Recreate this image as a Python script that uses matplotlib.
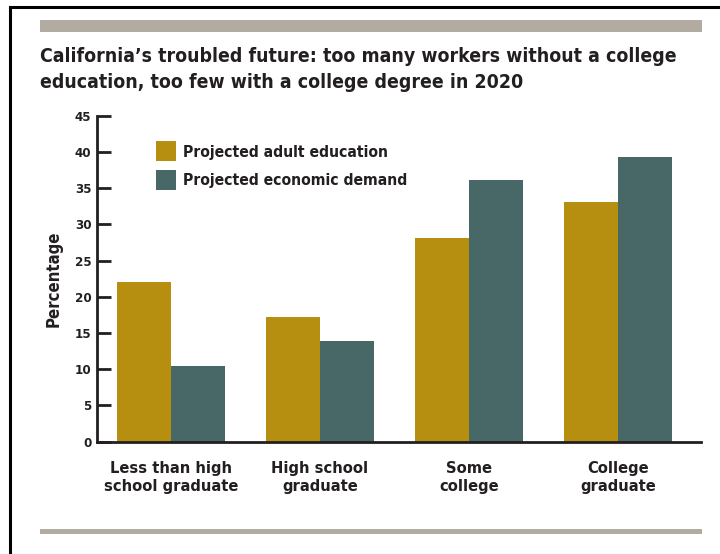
import numpy as np
import matplotlib.pyplot as plt
from matplotlib.patches import Rectangle
from matplotlib.lines import Line2D

# Education levels and projected shares (%) for 2020
categories = ["Less than high\nschool graduate", "High school\ngraduate",
              "Some\ncollege", "College\ngraduate"]
adult_education = [22.0, 17.2, 28.1, 33.1]
economic_demand = [10.5, 13.9, 36.1, 39.3]
series_names = ["Projected adult education", "Projected economic demand"]
yticks = [0, 5, 10, 15, 20, 25, 30, 35, 40, 45]

GOLD = "#B68E10"
TEAL = "#476866"
INK = "#231F20"
RULE = "#B2ABA2"

plt.rcParams["font.family"] = ["DejaVu Sans"]
plt.rcParams["font.stretch"] = "condensed"
plt.rcParams["font.weight"] = "bold"

W, H = 720, 554
fig = plt.figure(figsize=(W / 100, H / 100), dpi=100)
renderer = fig.canvas.get_renderer()


def fx(px):
    return px / W


def fy(py):
    return 1 - py / H


def fit_width(txt, target_px):
    # scale font so the text spans target_px horizontally
    w = txt.get_window_extent(renderer).width
    txt.set_fontsize(txt.get_fontsize() * target_px / w)


# Page frame and grey rules
fig.add_artist(Line2D([fx(10), fx(10)], [fy(7), 0], color="black", lw=2.2))
fig.add_artist(Line2D([fx(10), 1], [fy(7), fy(7)], color="black", lw=2.2))
fig.add_artist(Rectangle((fx(40), fy(32)), fx(662), 12 / H, color=RULE, lw=0))
fig.add_artist(Rectangle((fx(40), fy(534)), fx(662), 5 / H, color=RULE, lw=0))

t1 = fig.text(fx(40), fy(56), "California\u2019s troubled future: too many workers without a college",
              fontsize=15, color=INK, va="center", ha="left")
fit_width(t1, 636)
fig.text(fx(40), fy(83), "education, too few with a college degree in 2020",
         fontsize=t1.get_fontsize(), color=INK, va="center", ha="left")

ax = fig.add_axes([fx(97), fy(441.7), fx(701 - 97), (441.7 - 115.7) / H])
x = np.arange(len(categories))
width = 0.36
ax.bar(x - width / 2, adult_education, width, color=GOLD)
ax.bar(x + width / 2, economic_demand, width, color=TEAL)

ax.set_xlim(-0.497, 3.557)
ax.set_ylim(0, 45)
ax.set_yticks(yticks)
ax.set_xticks([])
for side in ["top", "right"]:
    ax.spines[side].set_visible(False)
for side in ["left", "bottom"]:
    ax.spines[side].set_linewidth(2)
    ax.spines[side].set_color(INK)
ax.tick_params(axis="y", direction="in", length=10, width=2, color=INK,
               labelsize=9.5, labelcolor=INK, pad=4)
for lbl in ax.get_yticklabels():
    lbl.set_fontweight("bold")

ax.set_ylabel("Percentage", fontsize=12, color=INK, fontweight="bold", labelpad=9)

cat_size = None
for xi, cat in zip(x, categories):
    t = ax.text(xi, -2.7, cat, ha="center", va="top", fontsize=11.5, color=INK,
                linespacing=1.2)
    if cat_size is None:
        fit_width(t, 135)
        cat_size = t.get_fontsize()
    t.set_fontsize(cat_size)

# Legend drawn as swatches with labels
leg_size = None
for i, (name, col) in enumerate(zip(series_names, [GOLD, TEAL])):
    top = 141 + i * 29
    fig.add_artist(Rectangle((fx(156), fy(top + 20)), fx(20), 20 / H, color=col, lw=0))
    t = fig.text(fx(183), fy(top + 11), name, fontsize=11, color=INK, va="center", ha="left")
    if leg_size is None:
        fit_width(t, 205)
        leg_size = t.get_fontsize()
    t.set_fontsize(leg_size)

fig.savefig("out.png", dpi=100)
